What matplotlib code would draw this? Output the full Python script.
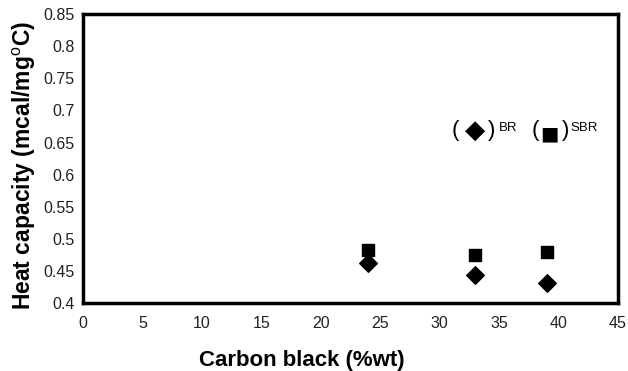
import matplotlib
matplotlib.use("Agg")
import matplotlib.pyplot as plt

plt.rcParams["font.family"] = ["Liberation Sans", "DejaVu Sans"]
plt.rcParams["mathtext.fontset"] = "custom"
plt.rcParams["mathtext.rm"] = "Liberation Sans"

carbon_black = [24, 33, 39]
br_heat = [0.463, 0.443, 0.431]
sbr_heat = [0.483, 0.475, 0.479]

x_ticks = [0, 5, 10, 15, 20, 25, 30, 35, 40, 45]
y_ticks = [0.4, 0.45, 0.5, 0.55, 0.6, 0.65, 0.7, 0.75, 0.8, 0.85]

fig = plt.figure(figsize=(6.28, 3.71), dpi=100)
ax = fig.add_axes([0.132, 0.183, 0.852, 0.779])

ax.scatter(carbon_black, br_heat, marker="D", s=80, color="black", zorder=3)
ax.scatter(carbon_black, sbr_heat, marker="s", s=75, color="black", zorder=3)

ax.set_xlim(0, 45)
ax.set_ylim(0.4, 0.85)
ax.set_xticks(x_ticks)
ax.set_xticklabels([str(t) for t in x_ticks])
ax.set_yticks(y_ticks)
ax.set_yticklabels([f"{t:g}" for t in y_ticks])
ax.tick_params(length=0, labelsize=11.5, pad=9, colors="#222222")
ax.tick_params(axis="y", pad=6)

for s in ax.spines.values():
    s.set_linewidth(2.5)

ax.set_xlabel("Carbon black (%wt)", fontsize=16, fontweight="bold")
ax.xaxis.set_label_coords(0.41, -0.162)
ax.set_ylabel("Heat capacity (mcal/mg$^{\\rm o}$C)", fontsize=16.5, fontweight="bold")
ax.yaxis.set_label_coords(-0.084, 0.475)

# legend drawn as text, as in the original figure
ax.text(31.0, 0.668, "(", fontsize=16, va="center")
ax.text(33.0, 0.668, "\u25C6", fontsize=19, va="center", ha="center", family="DejaVu Sans")
ax.text(34.1, 0.668, ")", fontsize=16, va="center")
ax.text(35.0, 0.672, "BR", fontsize=9.5, va="center")
ax.text(37.7, 0.668, "(", fontsize=16, va="center")
ax.text(39.2, 0.664, "\u25A0", fontsize=14, va="center", ha="center", family="DejaVu Sans")
ax.text(40.3, 0.668, ")", fontsize=16, va="center")
ax.text(41.0, 0.672, "SBR", fontsize=9.5, va="center")

fig.savefig("out.png", dpi=100)
